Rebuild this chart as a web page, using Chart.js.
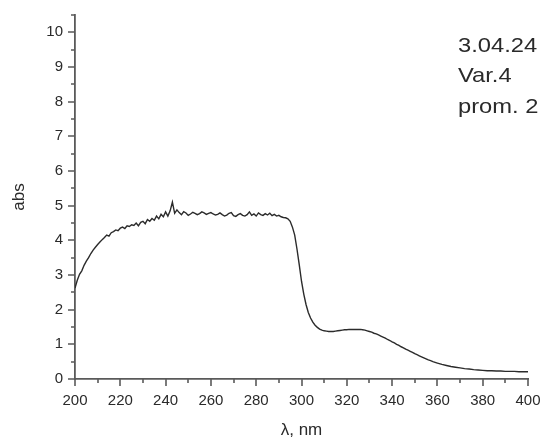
<!DOCTYPE html>
<html>
<head>
<meta charset="utf-8">
<script src="https://cdn.jsdelivr.net/npm/chart.js@4/dist/chart.umd.min.js"></script>
<style>
  html, body { margin: 0; padding: 0; background: #fff; }
  #wrap { width: 543px; height: 441px; position: relative; }
</style>
</head>
<body>
<div id="wrap"><canvas id="c" width="543" height="441"></canvas></div>
<script>
// Wavelength (nm)
const wavelength = [
  200,201,202,203,204,205,206,207,208,209,210,211,212,213,214,215,216,217,218,219,
  220,221,222,223,224,225,226,227,228,229,230,231,232,233,234,235,236,237,238,239,
  240,241,242,243,244,245,246,247,248,249,250,251,252,253,254,255,256,257,258,259,
  260,261,262,263,264,265,266,267,268,269,270,271,272,273,274,275,276,277,278,279,
  280,281,282,283,284,285,286,287,288,289,290,291,292,293,294,295,296,297,298,299,
  300,301,302,303,304,305,306,307,308,309,310,311,312,313,314,315,316,317,318,319,
  320,321,322,323,324,325,326,327,328,329,330,331,332,333,334,335,336,337,338,339,
  340,341,342,343,344,345,346,347,348,349,350,351,352,353,354,355,356,357,358,359,
  360,362,364,366,368,370,372,374,376,378,380,382,384,386,388,390,392,394,396,398,400
];
// Absorbance
const absorbance = [
  2.62,2.85,3.02,3.12,3.28,3.40,3.50,3.62,3.72,3.80,3.88,3.95,4.02,4.08,4.15,4.12,4.22,4.25,4.30,4.28,
  4.35,4.38,4.34,4.42,4.40,4.45,4.43,4.50,4.42,4.52,4.55,4.48,4.60,4.55,4.63,4.58,4.70,4.62,4.75,4.68,
  4.82,4.70,4.85,5.10,4.78,4.88,4.80,4.74,4.83,4.79,4.72,4.76,4.81,4.78,4.74,4.77,4.82,4.79,4.75,4.78,
  4.80,4.76,4.73,4.75,4.79,4.74,4.70,4.73,4.78,4.80,4.71,4.69,4.74,4.77,4.72,4.70,4.74,4.82,4.72,4.76,
  4.70,4.79,4.74,4.72,4.77,4.73,4.78,4.71,4.75,4.70,4.72,4.68,4.66,4.65,4.62,4.55,4.38,4.15,3.75,3.30,
  2.82,2.45,2.15,1.92,1.76,1.64,1.55,1.49,1.44,1.41,1.39,1.38,1.37,1.37,1.37,1.38,1.39,1.40,1.41,1.42,
  1.42,1.43,1.43,1.43,1.43,1.43,1.43,1.42,1.41,1.39,1.37,1.35,1.32,1.30,1.27,1.24,1.21,1.18,1.14,1.11,
  1.07,1.04,1.00,0.97,0.93,0.90,0.86,0.83,0.80,0.77,0.73,0.70,0.67,0.64,0.61,0.58,0.55,0.53,0.50,0.48,
  0.46,0.42,0.39,0.36,0.34,0.32,0.30,0.29,0.27,0.26,0.25,0.24,0.24,0.23,0.23,0.22,0.22,0.22,0.21,0.21,0.21
];
const xTickLabels = [200,220,240,260,280,300,320,340,360,380,400];
const yTickLabels = [0,1,2,3,4,5,6,7,8,9,10];
const yAxisTitle = 'abs';
const xAxisTitle = 'λ, nm';
const noteLines = ['3.04.24', 'Var.4', 'prom. 2'];

const FONT = '"Liberation Sans", Arial, sans-serif';
const TXT = '#2a2a2a';
const AXIS = '#5a5a5a';

const tickPlugin = {
  id: 'ticksAndNote',
  afterDraw(chart) {
    const ctx = chart.ctx;
    const xs = chart.scales.x, ys = chart.scales.y;
    const area = chart.chartArea;
    ctx.save();
    ctx.strokeStyle = AXIS;
    ctx.lineWidth = 1.6;
    ctx.beginPath();
    xs.ticks.forEach(t => {
      const px = Math.round(xs.getPixelForValue(t.value));
      const len = xTickLabels.includes(t.value) ? 7 : 4;
      ctx.moveTo(px, area.bottom);
      ctx.lineTo(px, area.bottom + len);
    });
    ys.ticks.forEach(t => {
      const py = Math.round(ys.getPixelForValue(t.value));
      const len = yTickLabels.includes(t.value) ? 7 : 4;
      ctx.moveTo(area.left, py);
      ctx.lineTo(area.left - len, py);
    });
    ctx.stroke();
    // note text
    ctx.fillStyle = TXT;
    ctx.font = '21px ' + FONT;
    ctx.textAlign = 'left';
    ctx.textBaseline = 'middle';
    noteLines.forEach((s, i) => {
      ctx.save();
      ctx.translate(458, 46 + i * 30.5);
      ctx.scale(1.13, 1);
      ctx.fillText(s, 0, 0);
      ctx.restore();
    });
    ctx.restore();
  }
};

new Chart(document.getElementById('c'), {
  type: 'line',
  data: {
    datasets: [{
      data: wavelength.map((w, i) => ({ x: w, y: absorbance[i] })),
      borderColor: '#2b2b2b',
      borderWidth: 1.4,
      pointRadius: 0,
      tension: 0,
      fill: false
    }]
  },
  options: {
    responsive: false,
    animation: false,
    devicePixelRatio: 1,
    layout: { padding: { left: 0, right: 15, top: 15, bottom: 0 } },
    plugins: { legend: { display: false }, tooltip: { enabled: false } },
    scales: {
      x: {
        type: 'linear',
        min: 200, max: 400,
        afterFit(s) { s.height = 62; s.paddingLeft = 0; s.paddingRight = 0; },
        grid: { display: false },
        border: { display: true, color: AXIS, width: 1.8 },
        ticks: {
          stepSize: 10,
          autoSkip: false,
          maxRotation: 0,
          padding: 5,
          color: TXT,
          font: { family: FONT, size: 15 },
          callback: v => xTickLabels.includes(v) ? String(v) : ''
        },
        title: {
          display: true, text: xAxisTitle, color: TXT,
          font: { family: FONT, size: 17 },
          padding: { top: 0, bottom: 0 }
        }
      },
      y: {
        type: 'linear',
        min: 0, max: 10.5,
        afterFit(s) { s.width = 75; s.paddingTop = 0; s.paddingBottom = 0; },
        grid: { display: false },
        border: { display: true, color: AXIS, width: 1.8 },
        ticks: {
          stepSize: 0.5,
          autoSkip: false,
          padding: 4,
          color: TXT,
          font: { family: FONT, size: 15 },
          callback: v => yTickLabels.includes(v) ? String(v) : ''
        },
        title: {
          display: true, text: yAxisTitle, color: TXT,
          font: { family: FONT, size: 17 },
          padding: { top: 9, bottom: 0 }
        }
      }
    }
  },
  plugins: [tickPlugin]
});
</script>
</body>
</html>
